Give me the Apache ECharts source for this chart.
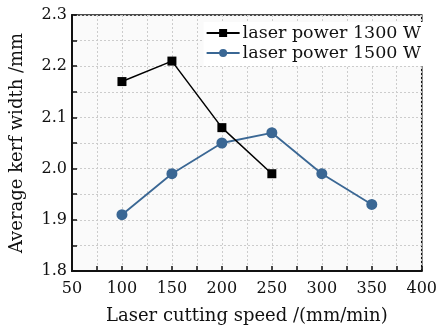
<!DOCTYPE html>
<html><head><meta charset="utf-8">
<script src="https://cdn.jsdelivr.net/npm/echarts@6/dist/echarts.min.js"></script>
<style>html,body{margin:0;padding:0;background:#fff}#c{width:440px;height:330px}</style>
</head><body><div id="c"></div>
<script>
const speeds1300 = [100, 150, 200, 250];
const kerf1300 = [2.17, 2.21, 2.08, 1.99];
const speeds1500 = [100, 150, 200, 250, 300, 350];
const kerf1500 = [1.91, 1.99, 2.05, 2.07, 1.99, 1.93];
const seriesNames = ['laser power 1300 W', 'laser power 1500 W'];
const xTitle = 'Laser cutting speed /(mm/min)';
const yTitle = 'Average kerf width /mm';

const font = '"DejaVu Serif", serif';
const chart = echarts.init(document.getElementById('c'));
const gridLine = {show: true, lineStyle: {color: '#cccccc', type: [2, 2], width: 1}};
chart.setOption({
  animation: false,
  backgroundColor: '#fff',
  grid: {left: 72, right: 14, top: 15, bottom: 56, show: true, backgroundColor: '#fafafa', borderColor: '#111', borderWidth: 1.5},
  legend: {
    top: 22, right: 17, orient: 'vertical', itemGap: 2, itemWidth: 33, itemHeight: 10,
    backgroundColor: '#fff', padding: [2, 2, 4, 2],
    textStyle: {fontFamily: font, fontSize: 17.5, color: '#111', padding: [0, 0, 0, -2]},
    data: seriesNames
  },
  xAxis: {
    type: 'value', min: 50, max: 400, interval: 50,
    axisLine: {show: true, lineStyle: {color: '#111', width: 2}},
    axisTick: {show: true, inside: true, length: 5, lineStyle: {color: '#111', width: 1.5}},
    minorTick: {show: true, splitNumber: 2, length: 5, lineStyle: {color: '#111', width: 1.5}},
    splitLine: gridLine,
    minorSplitLine: gridLine,
    axisLabel: {fontFamily: font, fontSize: 16, color: '#111', margin: 10},
    name: xTitle, nameLocation: 'middle', nameGap: 36,
    nameTextStyle: {fontFamily: font, fontSize: 18, color: '#111'}
  },
  yAxis: {
    type: 'value', min: 1.8, max: 2.3, interval: 0.1,
    axisLine: {show: true, lineStyle: {color: '#111', width: 2}},
    axisTick: {show: true, inside: true, length: 5, lineStyle: {color: '#111', width: 1.5}},
    minorTick: {show: true, splitNumber: 2, length: 5, lineStyle: {color: '#111', width: 1.5}},
    splitLine: gridLine,
    minorSplitLine: gridLine,
    axisLabel: {fontFamily: font, fontSize: 16, color: '#111', margin: 5, formatter: v => v.toFixed(1)},
    name: yTitle, nameLocation: 'middle', nameGap: 46,
    nameTextStyle: {fontFamily: font, fontSize: 18, color: '#111'}
  },
  series: [
    {name: seriesNames[0], type: 'line', data: speeds1300.map((s, i) => [s, kerf1300[i]]),
     symbol: 'rect', symbolSize: 9, color: '#000', lineStyle: {width: 1.5, color: '#000'}, itemStyle: {color: '#000'}, z: 3},
    {name: seriesNames[1], type: 'line', data: speeds1500.map((s, i) => [s, kerf1500[i]]),
     symbol: 'circle', symbolSize: 11, color: '#3a6794', lineStyle: {width: 1.8, color: '#3a6794'}, itemStyle: {color: '#3a6794'}, z: 2}
  ]
});
</script></body></html>
